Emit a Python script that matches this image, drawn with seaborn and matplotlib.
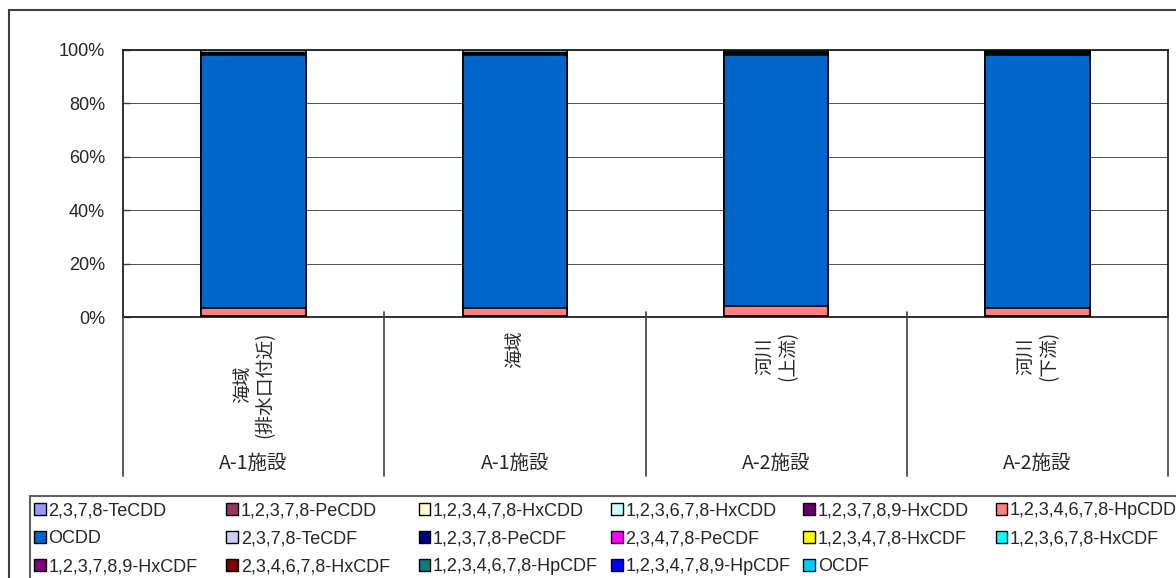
import matplotlib
matplotlib.use('Agg')
import pandas as pd
import matplotlib.pyplot as plt
import seaborn as sns
from matplotlib.patches import Rectangle, Patch

# categories (x axis) and their facility group
sites = ['海域\n(排水口付近)', '海域', '河川\n(上流)', '河川\n(下流)']
facilities = ['A-1施設', 'A-1施設', 'A-2施設', 'A-2施設']

# congeners, bottom -> top of each stack
congeners = ['2,3,7,8-TeCDD', '1,2,3,7,8-PeCDD', '1,2,3,4,7,8-HxCDD',
             '1,2,3,6,7,8-HxCDD', '1,2,3,7,8,9-HxCDD', '1,2,3,4,6,7,8-HpCDD',
             'OCDD', '2,3,7,8-TeCDF', '1,2,3,7,8-PeCDF', '2,3,4,7,8-PeCDF',
             '1,2,3,4,7,8-HxCDF', '1,2,3,6,7,8-HxCDF', '1,2,3,7,8,9-HxCDF',
             '2,3,4,6,7,8-HxCDF', '1,2,3,4,6,7,8-HpCDF', '1,2,3,4,7,8,9-HpCDF',
             'OCDF']
colors = ['#9999FF', '#993366', '#FFFFCC', '#CCFFFF', '#660066', '#FF8080',
          '#0066CC', '#CCCCFF', '#000080', '#FF00FF', '#FFFF00', '#00FFFF',
          '#800080', '#800000', '#008080', '#0000FF', '#00CCFF']

# composition (%) per site, same order as congeners
site1 = [0.02, 0.05, 0.03, 0.10, 0.08, 3.2, 94.6, 0.05, 0.03, 0.05, 0.05, 0.05, 0.01, 0.05, 0.60, 0.05, 0.98]
site2 = [0.02, 0.04, 0.03, 0.09, 0.07, 3.2, 94.7, 0.05, 0.03, 0.05, 0.05, 0.05, 0.01, 0.05, 0.55, 0.04, 0.97]
site3 = [0.02, 0.05, 0.04, 0.12, 0.08, 3.9, 93.9, 0.10, 0.10, 0.15, 0.25, 0.25, 0.02, 0.30, 0.60, 0.05, 0.07]
site4 = [0.02, 0.05, 0.03, 0.10, 0.07, 3.0, 95.0, 0.10, 0.10, 0.15, 0.25, 0.25, 0.02, 0.30, 0.50, 0.05, 0.01]

yticks = [0, 20, 40, 60, 80, 100]

sns.set_theme(style='white')
plt.rcParams['font.family'] = ['Liberation Sans', 'Noto Sans CJK JP']
cjk = ['Noto Sans CJK JP', 'Liberation Sans']

data = pd.DataFrame([site1, site2, site3, site4], columns=congeners)
data = data.div(data.sum(axis=1), axis=0) * 100   # 100% stacked
cum = data.cumsum(axis=1)

W, H = 1176, 578
fig = plt.figure(figsize=(W / 100, H / 100), dpi=100)
ax = fig.add_axes([123 / W, 1 - 317 / H, (1168 - 123) / W, (317 - 50) / H])

# stacked bars: draw top cumulative first, lower ones on top of it
for j in range(len(congeners) - 1, -1, -1):
    sns.barplot(x=sites, y=cum[congeners[j]].values, color=colors[j],
                saturation=1, width=0.4, edgecolor='black', linewidth=1.2,
                errorbar=None, ax=ax, zorder=3)

ax.set_xlim(-0.5, len(sites) - 0.5)
ax.set_ylim(0, 100)
ax.set_yticks(yticks)
ax.set_yticklabels([f'{v}%' for v in yticks], fontsize=13)
ax.set_xticks([])
ax.set_xlabel('')
ax.set_ylabel('')
ax.yaxis.grid(True, color='#505050', lw=0.7)
ax.set_axisbelow(True)
ax.tick_params(axis='y', direction='in', length=5, width=1, color='#404040',
               pad=13, left=True)
for s in ax.spines.values():
    s.set_color('#202020')
    s.set_linewidth(1.3)

# category table below the axis
tr = ax.get_xaxis_transform()
y_bot = -(476 - 317) / (317 - 50)
for xb in [-0.5, 0.5, 1.5, 2.5, 3.5]:
    top = 0 if xb in (-0.5, 3.5) else 0.02
    ax.plot([xb, xb], [top, y_bot], transform=tr, color='#404040', lw=1.2,
            clip_on=False, zorder=5)
for i, (s, f) in enumerate(zip(sites, facilities)):
    ax.text(i, -(331 - 317) / (317 - 50), s, transform=tr, rotation=90,
            ha='center', va='top', multialignment='center', fontsize=13.5,
            family=cjk, linespacing=1.1)
    ax.text(i, -(463 - 317) / (317 - 50), f, transform=tr, ha='center',
            va='center', fontsize=14, family=cjk)

# outer chart border and legend box
fig.add_artist(Rectangle((9 / W, -0.1), 1.2, 1 - 10 / H + 0.1,
                         transform=fig.transFigure, fill=False,
                         edgecolor='#404040', lw=1.5))
fig.add_artist(Rectangle((30 / W, -0.1), 1.2, 1 - 496 / H + 0.1,
                         transform=fig.transFigure, fill=False,
                         edgecolor='#606060', lw=1.5))

# legend, row-major like the original, one legend per column
ncol = 6
for c in range(ncol):
    idx = list(range(c, len(congeners), ncol))
    handles = [Patch(facecolor=colors[k], edgecolor='black', lw=1) for k in idx]
    fig.legend(handles, [congeners[k] for k in idx], loc='upper left',
               bbox_to_anchor=((34 + 192.3 * c) / W, 1 - 502 / H),
               frameon=False, fontsize=13, borderpad=0, borderaxespad=0,
               handlelength=0.65, handleheight=0.65, handletextpad=0.15,
               labelspacing=0.62)

fig.savefig('out.png', dpi=100)
